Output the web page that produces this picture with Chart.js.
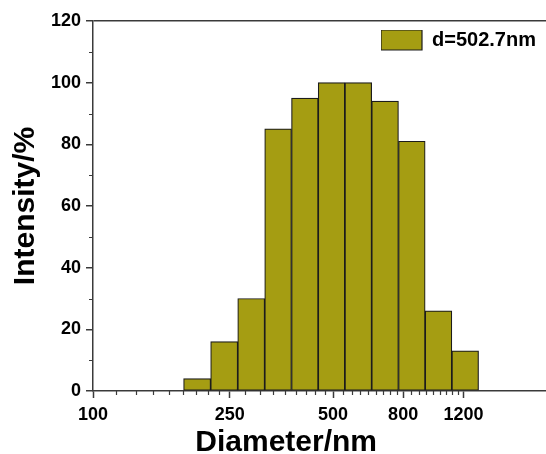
<!DOCTYPE html>
<html>
<head>
<meta charset="utf-8">
<script src="https://cdn.jsdelivr.net/npm/chart.js@4.4.1/dist/chart.umd.min.js"></script>
<style>
  html, body { margin: 0; padding: 0; background: #fff; }
  canvas { display: block; }
</style>
</head>
<body>
<canvas id="dlsChart" width="546" height="454"></canvas>
<script>
// bin centres (nm) and intensity (%)
var diameters = [201, 241, 289, 346, 414, 495, 592, 709, 848, 1014, 1213];
var intensities = [4, 16, 30, 85, 95, 100, 100, 94, 81, 26, 13];
var xMajorTicks = [100, 250, 500, 800, 1200];
var yMajorStep = 20;
var legendLabel = 'd=502.7nm';

var barColor = '#a59d12';
var axisColor = '#3a3a3a';

Chart.defaults.font.family = '"Liberation Sans", Arial, sans-serif';
Chart.defaults.color = '#000';

// short minor ticks, Origin style: 8 between every pair of major ticks
var minorTicks = {
  id: 'minorTicks',
  afterDraw: function(chart) {
    var ctx = chart.ctx, x = chart.scales.x, y = chart.scales.y, area = chart.chartArea;
    ctx.save();
    ctx.strokeStyle = axisColor;
    ctx.lineWidth = 1.2;
    ctx.beginPath();
    for (var i = 0; i < xMajorTicks.length - 1; i++) {
      var a = xMajorTicks[i], b = xMajorTicks[i + 1];
      for (var k = 1; k < 9; k++) {
        var px = Math.round(x.getPixelForValue(a + (b - a) * k / 9)) + 0.5;
        ctx.moveTo(px, area.bottom);
        ctx.lineTo(px, area.bottom + 4);
      }
    }
    for (var v = yMajorStep / 2; v < 120; v += yMajorStep) {
      var py = Math.round(y.getPixelForValue(v)) + 0.5;
      ctx.moveTo(area.left - 4, py);
      ctx.lineTo(area.left, py);
    }
    ctx.stroke();
    ctx.restore();
  }
};

// put the legend in the top right corner of the plot
var legendInside = {
  id: 'legendInside',
  afterLayout: function(chart) {
    var lg = chart.legend, area = chart.chartArea;
    lg.left = area.right - 165;
    lg.top = area.top + 9;
  }
};

var ctx = document.getElementById('dlsChart').getContext('2d');
var chart = new Chart(ctx, {
  type: 'bar',
  data: {
    datasets: [{
      label: legendLabel,
      data: diameters.map(function(d, i) { return {x: d, y: intensities[i]}; }),
      backgroundColor: barColor,
      borderColor: '#1c1c1c',
      borderWidth: 1.2,
      borderSkipped: false,
      barThickness: 'flex',
      barPercentage: 1,
      categoryPercentage: 1
    }]
  },
  options: {
    responsive: false,
    animation: false,
    layout: { padding: { top: 21, left: 0, right: 0, bottom: 0 } },
    plugins: {
      tooltip: { enabled: false },
      legend: {
        position: 'chartArea',
        align: 'start',
        labels: {
          boxWidth: 41,
          boxHeight: 20,
          padding: 0,
          color: '#000',
          font: { size: 20, weight: 'bold' }
        }
      }
    },
    scales: {
      x: {
        type: 'logarithmic',
        min: 100,
        max: 2085,
        offset: false,
        afterBuildTicks: function(scale) {
          scale.ticks = xMajorTicks.map(function(v) { return {value: v}; });
        },
        afterFit: function(scale) { scale.height = 63; },
        ticks: {
          autoSkip: false,
          maxRotation: 0,
          padding: 6,
          font: { size: 18, weight: 'bold' },
          callback: function(value) { return String(value); }
        },
        grid: {
          offset: false,
          drawOnChartArea: false,
          tickLength: 7,
          tickWidth: 1.5,
          tickColor: axisColor
        },
        border: { color: axisColor, width: 1.5 },
        title: {
          display: true,
          text: 'Diameter/nm        ',
          font: { size: 30, weight: 'bold', lineHeight: 1 },
          padding: { top: 0, bottom: -4 }
        }
      },
      y: {
        min: 0,
        max: 120,
        afterFit: function(scale) { scale.width = 93; },
        ticks: {
          stepSize: yMajorStep,
          padding: 5,
          font: { size: 18, weight: 'bold' }
        },
        grid: {
          color: function(c) { return c.tick && c.tick.value === 120 ? axisColor : 'rgba(0,0,0,0)'; },
          lineWidth: 1.5,
          tickLength: 7,
          tickWidth: 1.5,
          tickColor: axisColor
        },
        border: { color: axisColor, width: 1.5 },
        title: {
          display: true,
          text: 'Intensity/%',
          font: { size: 30, weight: 'bold', lineHeight: 1 },
          padding: { top: 11, bottom: 0 }
        }
      }
    }
  },
  plugins: [minorTicks, legendInside]
});
</script>
</body>
</html>
